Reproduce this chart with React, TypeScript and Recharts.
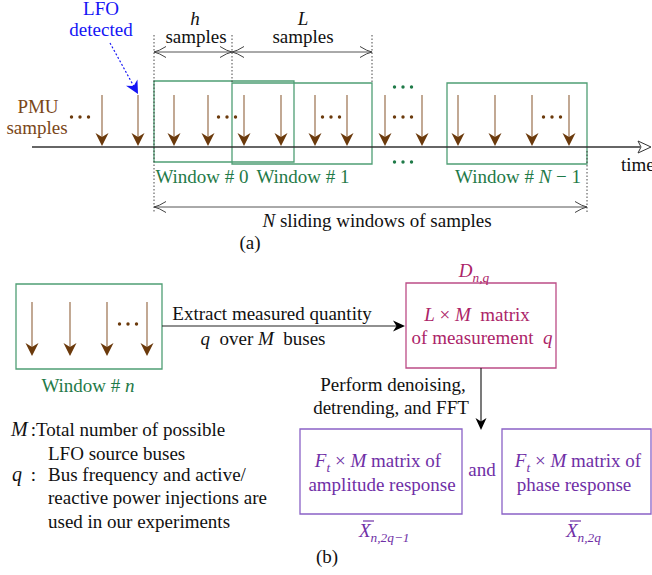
import React from 'react';
import { ComposedChart, XAxis, YAxis, Scatter, ReferenceLine, ReferenceArea } from 'recharts';

const W = 652;
const H = 575;

// ---------- (a) sliding windows over PMU samples ----------
const pmuSampleXs = [102, 138, 174, 208, 244, 281, 315, 347, 385, 422, 458, 495, 532, 569];
const pmuSampleTop = 95;
const pmuSampleTip = 146;
const timeAxis = { x1: 32, x2: 651, y: 147 };
const slidingWindows = [
  { x1: 154, x2: 294, y1: 81, y2: 162 },
  { x1: 232, x2: 372, y1: 83, y2: 164 },
  { x1: 447, x2: 587, y1: 83, y2: 164 },
];
const guideLines = [
  { x: 154, y1: 35, y2: 212 },
  { x: 232, y1: 35, y2: 83 },
  { x: 372, y1: 35, y2: 83 },
  { x: 587, y1: 151, y2: 212 },
];
const dimensionSpans = [
  { x1: 154, x2: 232, y: 52 },
  { x1: 232, x2: 372, y: 52 },
  { x1: 154, x2: 587, y: 207 },
];
const brownEllipsisCenters = [
  { x: 80, y: 117 }, { x: 227, y: 117 }, { x: 331, y: 117 },
  { x: 403, y: 117 }, { x: 552, y: 117 }, { x: 128, y: 324 },
];
const greenEllipsisCenters = [{ x: 403, y: 87 }, { x: 403, y: 162 }];
const lfoPointer = { x1: 110, y1: 43, x2: 138, y2: 94 };

// ---------- (b) processing of one window ----------
const windowNBox = { x1: 16, x2: 162, y1: 284, y2: 369 };
const windowNSampleXs = [32, 70, 107, 147];
const windowNSampleTop = 302;
const windowNSampleTip = 356;
const extractArrow = { x1: 162, x2: 405, y: 326 };
const matrixBox = { x1: 406, x2: 556, y1: 283, y2: 368 };
const fftArrow = { x: 481, y1: 368, y2: 430 };
const spectrumBoxes = [
  { x1: 300, x2: 462, y1: 429, y2: 514 },
  { x1: 502, x2: 651, y1: 429, y2: 514 },
];

// ---------- texts ----------
const blueLabels = [
  { x: 101, y: 15, spec: 'r:LFO' },
  { x: 101, y: 36, spec: 'r:detected' },
];
const brownLabels = [
  { x: 38, y: 113, spec: 'r:PMU' },
  { x: 37, y: 134, spec: 'r:samples' },
];
const blackLabels = [
  { x: 195, y: 25, spec: 'i:h' },
  { x: 196, y: 43, spec: 'r:samples' },
  { x: 303, y: 25, spec: 'i:L' },
  { x: 303, y: 43, spec: 'r:samples' },
  { x: 377, y: 227, spec: 'i:N|r: sliding windows of samples' },
  { x: 250, y: 249, spec: 'r:(a)' },
  { x: 272, y: 320, spec: 'r:Extract measured quantity' },
  { x: 263, y: 345, spec: 'i:q|r:  over |i:M|r:  buses' },
  { x: 393, y: 391, spec: 'r:Perform denoising,' },
  { x: 391, y: 414, spec: 'r:detrending, and FFT' },
  { x: 327, y: 563, spec: 'r:(b)' },
];
const blackLeftLabels = [
  { x: 621, y: 171, spec: 'r:time' },
  { x: 26, y: 436, spec: 'r: :Total number of possible' },
  { x: 48, y: 460, spec: 'r:LFO source buses' },
  { x: 26, y: 481, spec: 'r: :' },
  { x: 48, y: 481, spec: 'r:Bus frequency and active/' },
  { x: 48, y: 504, spec: 'r:reactive power injections are' },
  { x: 48, y: 528, spec: 'r:used in our experiments' },
];
const legendSymbols = [
  { x: 11, y: 436, spec: 'i:M' },
  { x: 12, y: 481, spec: 'i:q' },
];
const greenLabels = [
  { x: 202, y: 183, spec: 'r:Window # 0' },
  { x: 303, y: 183, spec: 'r:Window # 1' },
  { x: 518, y: 183, spec: 'r:Window # |i:N|r: \u2212 1' },
  { x: 88, y: 392, spec: 'r:Window # |i:n' },
];
const magentaLabels = [
  { x: 474, y: 277, spec: 'i:D|s:n,q' },
  { x: 477, y: 321, spec: 'i:L|r: \u00d7 |i:M|r:  matrix' },
  { x: 482, y: 344, spec: 'r:of measurement  |i:q' },
];
const purpleLabels = [
  { x: 378, y: 467, spec: 'i:F|s:t|r: \u00d7 |i:M|r: matrix of' },
  { x: 382, y: 491, spec: 'r:amplitude response' },
  { x: 482, y: 476, spec: 'r:and' },
  { x: 578, y: 467, spec: 'i:F|s:t|r: \u00d7 |i:M|r: matrix of' },
  { x: 574, y: 491, spec: 'r:phase response' },
];
const purpleBarLabels = [
  { x: 359, y: 537, spec: 'i:X|s:n,2q\u22121' },
  { x: 566, y: 537, spec: 'i:X|s:n,2q' },
];

const FONT = "'Liberation Serif', 'Times New Roman', Tinos, 'DejaVu Serif', serif";
const BROWN_HEAD = '#6b3a0c';
const BROWN_SHAFT = '#a88466';
const BROWN_TEXT = '#7a4719';
const GREEN_BOX = '#4f9e74';
const GREEN_TEXT = '#1f7a48';
const BLUE = '#1414f5';
const MAGENTA_TEXT = '#ac2468';
const MAGENTA_BOX = '#bc4c86';
const PURPLE_TEXT = '#6f2fa6';
const PURPLE_BOX = '#8a62c6';
const INK = '#222';

function RichText({ x, y, spec, fill, anchor = 'middle', size = 19 }: any) {
  let shifted = 0;
  const kids = String(spec).split('|').map((seg: string, i: number) => {
    const c = seg.indexOf(':');
    const k = seg.slice(0, c);
    const t = seg.slice(c + 1);
    const want = k === 's' ? 5 : 0;
    const dy = want - shifted;
    shifted = want;
    return (
      <tspan
        key={i}
        dy={dy !== 0 ? dy : undefined}
        style={{ fontStyle: k === 'r' ? 'normal' : 'italic', fontSize: k === 's' ? size * 0.7 : size }}
      >
        {t}
      </tspan>
    );
  });
  return (
    <text
      x={x}
      y={y}
      textAnchor={anchor}
      fill={fill}
      style={{ whiteSpace: 'pre', fontFamily: FONT, fontSize: size }}
    >
      {kids}
    </text>
  );
}

const textShape = (fill: string, anchor = 'middle', size = 19) => (p: any) =>
  <RichText x={p.cx} y={p.cy} spec={p.payload.spec} fill={fill} anchor={anchor} size={size} />;

const barTextShape = (fill: string) => (p: any) => (
  <g>
    <RichText x={p.cx} y={p.cy} spec={p.payload.spec} fill={fill} anchor="start" size={19} />
    <line x1={p.cx + 4} x2={p.cx + 15} y1={p.cy - 16} y2={p.cy - 16} stroke={fill} strokeWidth={1.2} />
  </g>
);

function Head({ cx, cy, angle, len, half, notch, fill }: any) {
  const d = `M0,0 L${-len},${-half} L${-len + notch},0 L${-len},${half} Z`;
  return <path transform={`translate(${cx},${cy}) rotate(${angle})`} d={d} fill={fill} stroke="none" />;
}
const headShape = (angle: number, fill: string, len = 13, half = 6.5, notch = 4) => (p: any) =>
  <Head cx={p.cx} cy={p.cy} angle={angle} len={len} half={half} notch={notch} fill={fill} />;

const chevronShape = (angle: number) => (p: any) => (
  <path
    transform={`translate(${p.cx},${p.cy}) rotate(${angle})`}
    d="M-12,-5.5 Q-5,-1 0,0 Q-5,1 -12,5.5"
    fill="none"
    stroke="#444"
    strokeWidth={1}
  />
);
const openTriangleShape = (p: any) => (
  <path transform={`translate(${p.cx},${p.cy})`} d="M0,0 L-13,-6 L-10,0 L-13,6 Z" fill="#fff" stroke="#333" strokeWidth={1} />
);
const dotShape = (fill: string) => (p: any) => <circle cx={p.cx} cy={p.cy} r={1.7} fill={fill} />;

const ellipsisDots = (centers: { x: number; y: number }[]) =>
  centers.flatMap((c) => [-8.5, 0, 8.5].map((dx) => ({ x: c.x + dx, y: c.y })));

const seg = (x1: number, y1: number, x2: number, y2: number) => [{ x: x1, y: y1 }, { x: x2, y: y2 }];

export default function App() {
  const lfoAngle = (Math.atan2(lfoPointer.y2 - lfoPointer.y1, lfoPointer.x2 - lfoPointer.x1) * 180) / Math.PI;
  const lfoLen = Math.hypot(lfoPointer.x2 - lfoPointer.x1, lfoPointer.y2 - lfoPointer.y1);
  const lfoEnd = {
    x: lfoPointer.x2 - ((lfoPointer.x2 - lfoPointer.x1) / lfoLen) * 9,
    y: lfoPointer.y2 - ((lfoPointer.y2 - lfoPointer.y1) / lfoLen) * 9,
  };
  return (
    <div style={{ position: 'absolute', left: 0, top: 0, width: W, height: H, background: '#fff' }}>
      <ComposedChart width={W} height={H} margin={{ top: 0, right: 0, bottom: 0, left: 0 }}>
        <XAxis type="number" dataKey="x" domain={[0, W]} hide allowDataOverflow />
        <YAxis type="number" dataKey="y" domain={[0, H]} reversed hide allowDataOverflow />

        <ReferenceLine segment={seg(timeAxis.x1, timeAxis.y, timeAxis.x2 - 11, timeAxis.y)} stroke="#333" strokeWidth={1.3} ifOverflow="visible" />

        {guideLines.map((g, i) => (
          <ReferenceLine key={'g' + i} segment={seg(g.x, g.y1, g.x, g.y2)} stroke="#333" strokeWidth={0.9} strokeDasharray="1.5 2" ifOverflow="visible" />
        ))}

        {dimensionSpans.map((d, i) => (
          <ReferenceLine key={'d' + i} segment={seg(d.x1, d.y, d.x2, d.y)} stroke="#555" strokeWidth={1} ifOverflow="visible" />
        ))}

        {slidingWindows.map((w, i) => (
          <ReferenceArea key={'w' + i} x1={w.x1} x2={w.x2} y1={w.y1} y2={w.y2} fill="none" fillOpacity={0} stroke={GREEN_BOX} strokeWidth={1.3} ifOverflow="visible" />
        ))}
        <ReferenceArea x1={windowNBox.x1} x2={windowNBox.x2} y1={windowNBox.y1} y2={windowNBox.y2} fill="none" fillOpacity={0} stroke={GREEN_BOX} strokeWidth={1.3} ifOverflow="visible" />
        <ReferenceArea x1={matrixBox.x1} x2={matrixBox.x2} y1={matrixBox.y1} y2={matrixBox.y2} fill="none" fillOpacity={0} stroke={MAGENTA_BOX} strokeWidth={1.3} ifOverflow="visible" />
        {spectrumBoxes.map((b, i) => (
          <ReferenceArea key={'b' + i} x1={b.x1} x2={b.x2} y1={b.y1} y2={b.y2} fill="none" fillOpacity={0} stroke={PURPLE_BOX} strokeWidth={1.3} ifOverflow="visible" />
        ))}

        {pmuSampleXs.map((x, i) => (
          <ReferenceLine key={'s' + i} segment={seg(x, pmuSampleTop, x, pmuSampleTip - 8)} stroke={BROWN_SHAFT} strokeWidth={1.4} ifOverflow="visible" />
        ))}
        {windowNSampleXs.map((x, i) => (
          <ReferenceLine key={'n' + i} segment={seg(x, windowNSampleTop, x, windowNSampleTip - 8)} stroke={BROWN_SHAFT} strokeWidth={1.4} ifOverflow="visible" />
        ))}

        <ReferenceLine segment={seg(extractArrow.x1, extractArrow.y, extractArrow.x2 - 8, extractArrow.y)} stroke={INK} strokeWidth={1.2} ifOverflow="visible" />
        <ReferenceLine segment={seg(fftArrow.x, fftArrow.y1, fftArrow.x, fftArrow.y2 - 8)} stroke={INK} strokeWidth={1.2} ifOverflow="visible" />
        <ReferenceLine segment={seg(lfoPointer.x1, lfoPointer.y1, lfoEnd.x, lfoEnd.y)} stroke={BLUE} strokeWidth={1.2} strokeDasharray="2 2" ifOverflow="visible" />

        <Scatter isAnimationActive={false} data={pmuSampleXs.map((x) => ({ x, y: pmuSampleTip }))} shape={headShape(90, BROWN_HEAD)} />
        <Scatter isAnimationActive={false} data={windowNSampleXs.map((x) => ({ x, y: windowNSampleTip }))} shape={headShape(90, BROWN_HEAD)} />
        <Scatter isAnimationActive={false} data={[{ x: extractArrow.x2, y: extractArrow.y }]} shape={headShape(0, '#000', 12, 5.5, 3.5)} />
        <Scatter isAnimationActive={false} data={[{ x: fftArrow.x, y: fftArrow.y2 }]} shape={headShape(90, '#000', 12, 5.5, 3.5)} />
        <Scatter isAnimationActive={false} data={[{ x: lfoPointer.x2, y: lfoPointer.y2 }]} shape={headShape(lfoAngle, BLUE, 13, 6.5, 4)} />
        <Scatter isAnimationActive={false} data={[{ x: timeAxis.x2, y: timeAxis.y }]} shape={openTriangleShape} />
        <Scatter isAnimationActive={false} data={dimensionSpans.map((d) => ({ x: d.x2, y: d.y }))} shape={chevronShape(0)} />
        <Scatter isAnimationActive={false} data={dimensionSpans.map((d) => ({ x: d.x1, y: d.y }))} shape={chevronShape(180)} />

        <Scatter isAnimationActive={false} data={ellipsisDots(brownEllipsisCenters)} shape={dotShape(BROWN_HEAD)} />
        <Scatter isAnimationActive={false} data={ellipsisDots(greenEllipsisCenters)} shape={dotShape(GREEN_TEXT)} />

        <Scatter isAnimationActive={false} data={blueLabels} shape={textShape(BLUE)} />
        <Scatter isAnimationActive={false} data={brownLabels} shape={textShape(BROWN_TEXT)} />
        <Scatter isAnimationActive={false} data={blackLabels} shape={textShape('#111')} />
        <Scatter isAnimationActive={false} data={blackLeftLabels} shape={textShape('#111', 'start')} />
        <Scatter isAnimationActive={false} data={legendSymbols} shape={textShape('#111', 'start', 20)} />
        <Scatter isAnimationActive={false} data={greenLabels} shape={textShape(GREEN_TEXT)} />
        <Scatter isAnimationActive={false} data={magentaLabels} shape={textShape(MAGENTA_TEXT)} />
        <Scatter isAnimationActive={false} data={purpleLabels} shape={textShape(PURPLE_TEXT)} />
        <Scatter isAnimationActive={false} data={purpleBarLabels} shape={barTextShape(PURPLE_TEXT)} />
      </ComposedChart>
    </div>
  );
}
